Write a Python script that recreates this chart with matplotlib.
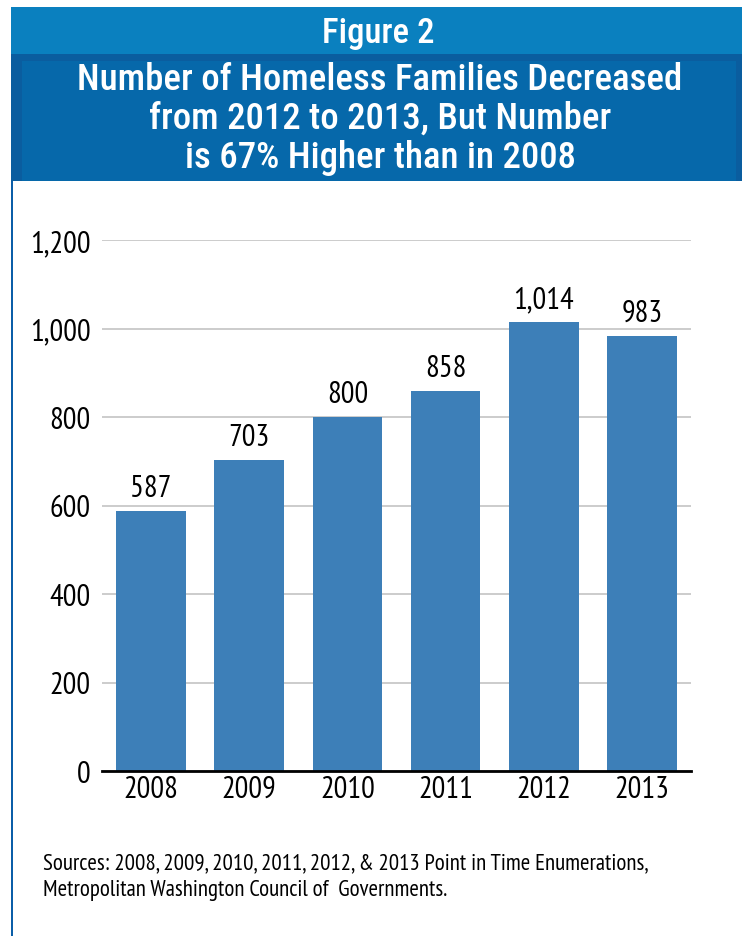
import matplotlib.pyplot as plt
from matplotlib.patches import Rectangle

years = ["2008", "2009", "2010", "2011", "2012", "2013"]
families = [587, 703, 800, 858, 1014, 983]
y_ticks = [0, 200, 400, 600, 800, 1000, 1200]

fig_title = "Figure 2"
chart_title = "Number of Homeless Families Decreased\nfrom 2012 to 2013, But Number\nis 67% Higher than in 2008"
sources = ("Sources: 2008, 2009, 2010, 2011, 2012, & 2013 Point in Time Enumerations,\n"
           "Metropolitan Washington Council of  Governments.")

W, H = 742, 937
narrow = ["PT Sans Narrow", "Roboto Condensed", "Archivo Narrow", "DejaVu Sans"]
head = ["Roboto Condensed", "Archivo Narrow", "PT Sans Narrow", "DejaVu Sans"]

fig = plt.figure(figsize=(W / 100, H / 100), dpi=100)
fig.patch.set_facecolor("white")

# header bands and left border (pixel coords -> figure fraction)
def box(x0, y0, x1, y1, color):
    fig.patches.append(Rectangle((x0 / W, 1 - y1 / H), (x1 - x0) / W, (y1 - y0) / H,
                                 transform=fig.transFigure, facecolor=color,
                                 edgecolor="none", zorder=0))

box(11, 8, W, 55, "#0A80BF")
box(11, 55, W, 182, "#0A5D9F")
box(22, 62, 736, 182, "#0668AA")
box(11, 182, 13, H, "#0B5EA8")

fig.text(378 / W, 1 - 33 / H, fig_title, color="white", ha="center", va="center",
         fontsize=25, family=head, fontweight="medium")
fig.text(380 / W, 1 - 119 / H, chart_title, color="white", ha="center", va="center",
         fontsize=26.5, family=head, fontweight="medium", linespacing=1.1)

# chart area
ax = fig.add_axes([102 / W, 1 - 772 / H, 589 / W, 531 / H])
x = range(len(years))
ax.bar(x, families, width=0.71, color="#3D7FB8", zorder=2)
for i, v in zip(x, families):
    ax.text(i, v + 20, f"{v:,}", ha="center", va="bottom", fontsize=22, family=narrow)

ax.set_xlim(-0.5, len(years) - 0.5)
ax.set_ylim(0, 1200)
ax.set_yticks(y_ticks)
ax.set_yticklabels([f"{t:,}" for t in y_ticks], fontsize=22, family=narrow)
ax.set_xticks(list(x))
ax.set_xticklabels(years, fontsize=22, family=narrow)
ax.tick_params(axis="both", length=0)
ax.tick_params(axis="y", pad=8)
ax.tick_params(axis="x", pad=3)
ax.grid(axis="y", color="#C8C8C8", linewidth=1.3, zorder=0)
for s in ["top", "right", "left"]:
    ax.spines[s].set_visible(False)
ax.spines["bottom"].set_linewidth(2)
ax.spines["bottom"].set_zorder(3)

fig.text(43 / W, 1 - 877 / H, sources, ha="left", va="center", fontsize=16.5,
         family=narrow, linespacing=1.4)

fig.savefig("out.png", dpi=100)
